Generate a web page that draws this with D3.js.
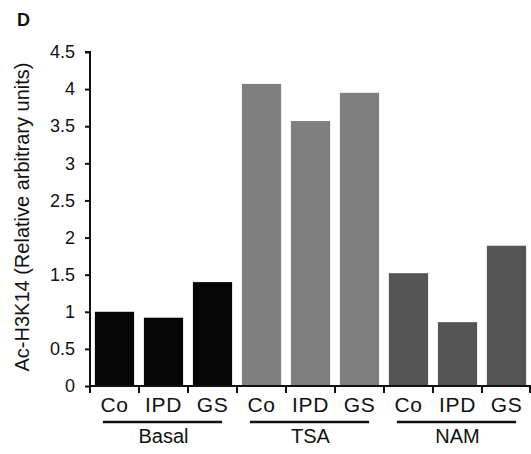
<!DOCTYPE html>
<html>
<head>
<meta charset="utf-8">
<script src="https://cdn.jsdelivr.net/npm/d3@7"></script>
<style>
  html, body { margin: 0; padding: 0; background: #fff; }
  svg { display: block; }
  text { font-family: "Liberation Sans", Arial, Helvetica, sans-serif; fill: #111; }
</style>
</head>
<body>
<svg id="chart" width="531" height="454"></svg>
<script>
const groups = ["Basal", "TSA", "NAM"];
const treatments = ["Co", "IPD", "GS"];
const basalValues = [1.00, 0.92, 1.40];
const tsaValues = [4.07, 3.57, 3.95];
const namValues = [1.52, 0.86, 1.89];
const groupColors = ["#050505", "#7f7f7f", "#555555"];
const yTicks = [0, 0.5, 1, 1.5, 2, 2.5, 3, 3.5, 4, 4.5];
const yTickLabels = ["0", "0.5", "1", "1.5", "2", "2.5", "3", "3.5", "4", "4.5"];
const yLabel = "Ac-H3K14 (Relative arbitrary units)";
const panelLabel = "D";

(function () {
const seriesValues = [basalValues, tsaValues, namValues];
const data = [];
groups.forEach((g, gi) => {
  treatments.forEach((t, ti) => {
    data.push({ key: g + "-" + t, group: g, gi, label: t, value: seriesValues[gi][ti] });
  });
});

const svg = d3.select("#chart");
const mLeft = 90, mRight = 531, mTop = 52, mBottom = 386;

const x = d3.scaleBand().domain(data.map(d => d.key)).range([mLeft, mRight]).paddingInner(0.2).paddingOuter(0.1);
const y = d3.scaleLinear().domain([0, 4.5]).range([mBottom, mTop]);

// bars
svg.append("g").selectAll("rect").data(data).join("rect")
  .attr("x", d => x(d.key))
  .attr("width", x.bandwidth())
  .attr("y", d => y(d.value))
  .attr("height", d => y(0) - y(d.value))
  .attr("fill", d => groupColors[d.gi]);

// y axis
const yAxis = d3.axisLeft(y).tickValues(yTicks).tickFormat((d, i) => yTickLabels[i]).tickSize(5).tickPadding(10);
const gy = svg.append("g").attr("transform", `translate(${mLeft},0)`).call(yAxis);
gy.select(".domain").attr("stroke", "#111").attr("stroke-width", 2).attr("d", `M-5,${mTop}H0V${mBottom}`);
gy.selectAll(".tick line").attr("stroke", "#111").attr("stroke-width", 2);
gy.selectAll(".tick text").attr("font-size", 18).attr("fill", "#111")
  .style("font-family", '"Liberation Sans", Arial, sans-serif');

// x axis: ticks at band boundaries
const boundaries = d3.range(0, data.length + 1).map(i => mLeft + i * (mRight - mLeft) / data.length);
const gx = svg.append("g");
gx.append("line").attr("x1", mLeft - 1).attr("x2", mRight).attr("y1", mBottom).attr("y2", mBottom)
  .attr("stroke", "#111").attr("stroke-width", 2);
gx.selectAll("line.tk").data(boundaries).join("line").attr("class", "tk")
  .attr("x1", d => Math.min(d, mRight - 1)).attr("x2", d => Math.min(d, mRight - 1))
  .attr("y1", mBottom).attr("y2", mBottom + 7)
  .attr("stroke", "#111").attr("stroke-width", 2);

// category labels
svg.append("g").selectAll("text").data(data).join("text")
  .attr("x", d => x(d.key) + x.bandwidth() / 2)
  .attr("y", 412)
  .attr("text-anchor", "middle")
  .attr("font-size", 21)
  .attr("letter-spacing", 0.6)
  .text(d => d.label);

// group lines and labels
groups.forEach((g, gi) => {
  const first = x(g + "-" + treatments[0]);
  const last = x(g + "-" + treatments[treatments.length - 1]) + x.bandwidth();
  const cx = (first + last) / 2;
  svg.append("line").attr("x1", first + 8).attr("x2", last - 10)
    .attr("y1", 422).attr("y2", 422).attr("stroke", "#111").attr("stroke-width", 2.5);
  svg.append("text").attr("x", cx).attr("y", 443).attr("text-anchor", "middle")
    .attr("font-size", 20).text(g);
});

// y label
svg.append("text")
  .attr("transform", `translate(29,${(mTop + mBottom) / 2 - 2}) rotate(-90)`)
  .attr("text-anchor", "middle").attr("font-size", 20).text(yLabel);

// panel label
svg.append("text").attr("x", 17).attr("y", 26).attr("font-size", 18).attr("font-weight", "bold").text(panelLabel);
})();
</script>
</body>
</html>
